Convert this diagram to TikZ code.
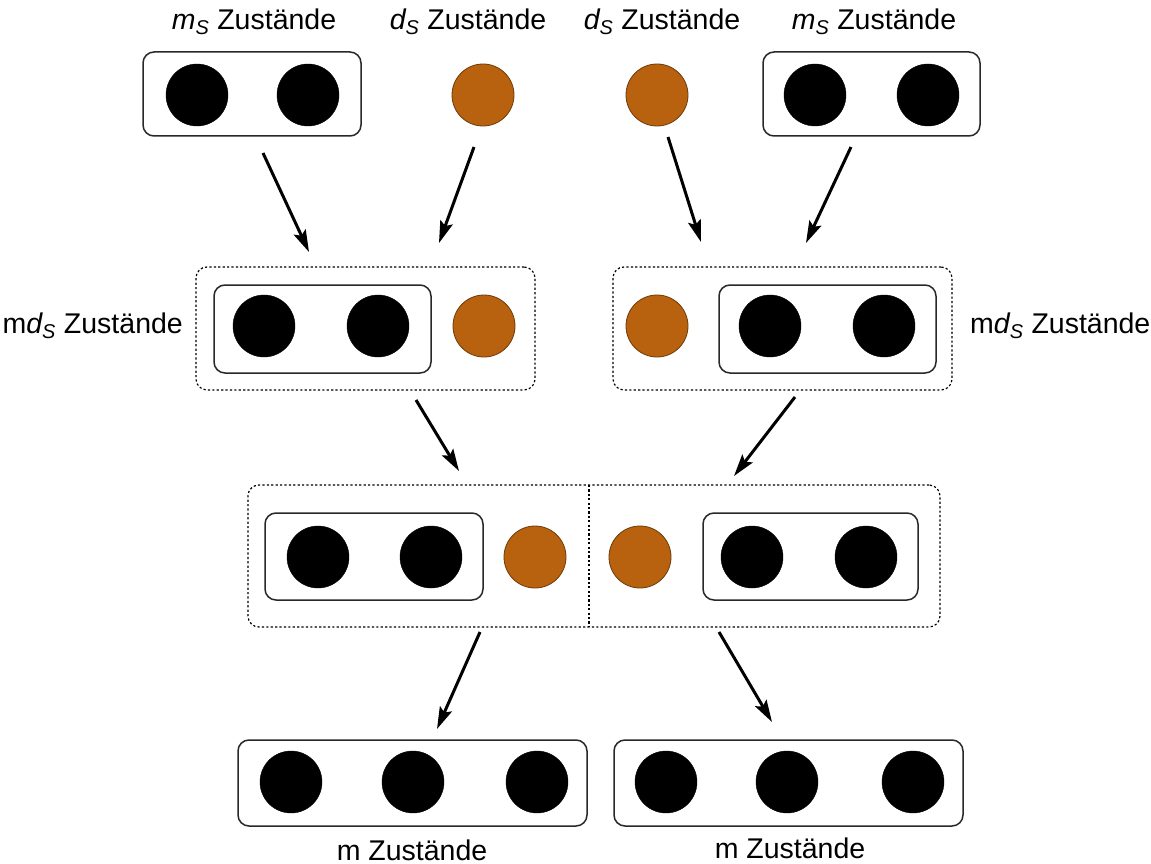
\documentclass[tikz,border=0pt]{standalone}
\usepackage{fontspec}
\setmainfont{Liberation Sans}
\usetikzlibrary{arrows.meta}
\definecolor{ochre}{RGB}{184,97,15}
\definecolor{ochreedge}{RGB}{110,60,10}
\definecolor{boxedge}{RGB}{40,40,40}
\tikzset{
  blk/.style={circle,fill=black,draw=black,minimum size=62pt,inner sep=0pt},
  org/.style={circle,fill=ochre,draw=ochreedge,line width=0.8pt,minimum size=62pt,inner sep=0pt},
  sbox/.style={draw=boxedge,line width=1.5pt,rounded corners=11pt,inner sep=0pt},
  dbox/.style={draw=black,line width=1.2pt,dash pattern=on 2.2pt off 2.2pt,rounded corners=11pt,inner sep=0pt},
  lbl/.style={font=\fontsize{28.5pt}{32pt}\selectfont,inner sep=0pt},
  arr/.style={line width=3pt,-{Stealth[length=22pt,width=13pt,inset=4pt]}}
}
\newcommand{\mS}{{\itshape m}\textsubscript{\itshape S}}
\newcommand{\dS}{{\itshape d}\textsubscript{\itshape S}}
\begin{document}
\begin{tikzpicture}[x=1pt,y=-1pt]
\useasboundingbox (0,0) rectangle (1151,864);
% top labels
\node[lbl] (t1) at (254,22) {\mS{} Zustände};
\node[lbl] (t2) at (468,22) {\dS{} Zustände};
\node[lbl] (t3) at (662,22) {\dS{} Zustände};
\node[lbl] (t4) at (874,22) {\mS{} Zustände};
% top row
\node[sbox,minimum width=218pt,minimum height=84pt] (b1) at (252,94) {};
\node[blk] (c11) at (197,95) {};
\node[blk] (c12) at (308,95) {};
\node[org] (o1) at (483,95) {};
\node[org] (o2) at (657,95) {};
\node[sbox,minimum width=217pt,minimum height=84pt] (b2) at (871.5,94) {};
\node[blk] (c21) at (815,95) {};
\node[blk] (c22) at (928,95) {};
% row 2
\node[dbox,minimum width=339pt,minimum height=123pt] (d1) at (365.5,328.5) {};
\node[sbox,minimum width=217pt,minimum height=88pt] (i1) at (322.5,329) {};
\node[blk] (m11) at (264,326) {};
\node[blk] (m12) at (378,326) {};
\node[org] (mo1) at (484,326) {};
\node[dbox,minimum width=339pt,minimum height=123pt] (d2) at (782.5,328.5) {};
\node[org] (mo2) at (657,326) {};
\node[sbox,minimum width=217pt,minimum height=88pt] (i2) at (827.5,329) {};
\node[blk] (m21) at (770,326) {};
\node[blk] (m22) at (884,326) {};
\node[lbl,anchor=east] (l1) at (183,326) {m\dS{} Zustände};
\node[lbl,anchor=west] (l2) at (970,326) {m\dS{} Zustände};
% row 3
\node[dbox,minimum width=692pt,minimum height=142pt] (d3) at (594,556) {};
\coordinate (dvt) at (589,485);
\coordinate (dvb) at (589,627);
\draw[line width=1.2pt,dash pattern=on 2.2pt off 2.2pt] (dvt) -- (dvb);
\node[sbox,minimum width=218pt,minimum height=87pt] (i3) at (374,556.5) {};
\node[blk] (n11) at (318,557) {};
\node[blk] (n12) at (431,557) {};
\node[org] (no1) at (535,557) {};
\node[org] (no2) at (640,557) {};
\node[sbox,minimum width=215pt,minimum height=87pt] (i4) at (810.5,556.5) {};
\node[blk] (n21) at (752,557) {};
\node[blk] (n22) at (866,557) {};
% row 4
\node[sbox,minimum width=349pt,minimum height=86pt] (f1) at (412.5,783) {};
\node[blk] (p11) at (291,782) {};
\node[blk] (p12) at (413,782) {};
\node[blk] (p13) at (537,782) {};
\node[sbox,minimum width=349pt,minimum height=86pt] (f2) at (788.5,783) {};
\node[blk] (p21) at (666,782) {};
\node[blk] (p22) at (787,782) {};
\node[blk] (p23) at (913,782) {};
\node[lbl] (bl1) at (412,850) {m Zustände};
\node[lbl] (bl2) at (790,848) {m Zustände};
% arrows
\coordinate (a1s) at (263,153); \coordinate (a1e) at (309,252);
\coordinate (a2s) at (474,147); \coordinate (a2e) at (439,243);
\coordinate (a3s) at (668,137); \coordinate (a3e) at (701,242);
\coordinate (a4s) at (851,147); \coordinate (a4e) at (806,243);
\coordinate (a5s) at (416,400); \coordinate (a5e) at (459,471);
\coordinate (a6s) at (795,397); \coordinate (a6e) at (734,476);
\coordinate (a7s) at (480,632); \coordinate (a7e) at (437,729);
\coordinate (a8s) at (719,632); \coordinate (a8e) at (772,722);
\foreach \i in {1,...,8} \draw[arr] (a\i s) -- (a\i e);
\end{tikzpicture}
\end{document}
